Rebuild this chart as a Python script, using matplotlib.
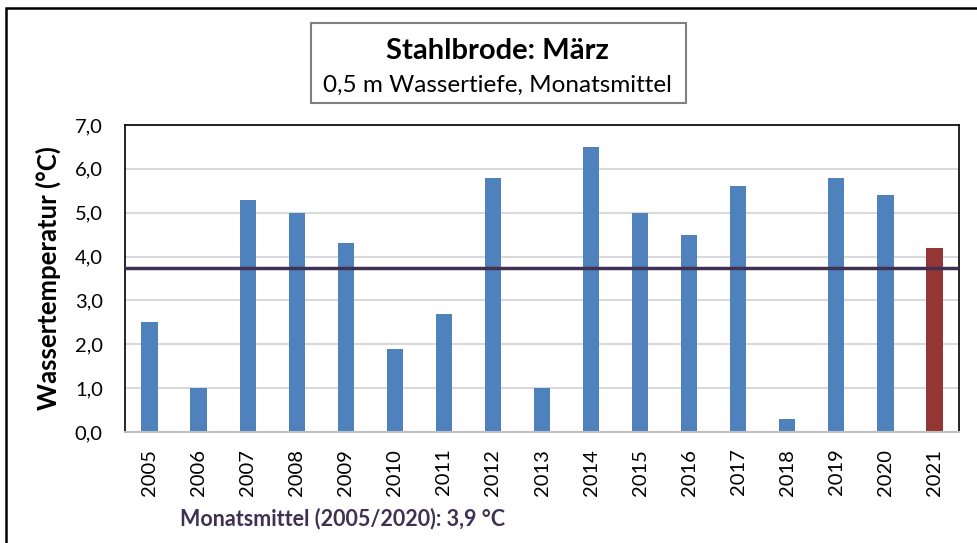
import matplotlib.pyplot as plt
from matplotlib.patches import Rectangle

plt.rcParams["font.family"] = ["Lato", "DejaVu Sans"]

years = ["2005", "2006", "2007", "2008", "2009", "2010", "2011", "2012", "2013",
         "2014", "2015", "2016", "2017", "2018", "2019", "2020", "2021"]
temps = [2.5, 1.0, 5.3, 5.0, 4.3, 1.9, 2.7, 5.8, 1.0, 6.5, 5.0, 4.5, 5.6, 0.3, 5.8, 5.4, 4.2]
mean_line = 3.75
y_ticks = [0, 1, 2, 3, 4, 5, 6, 7]

BLUE = "#4f81bd"
RED = "#943634"
PURPLE = "#403152"
GRID = "#d9d9d9"

fig = plt.figure(figsize=(9.78, 5.43), dpi=100)
fig.patch.set_facecolor("white")

# outer chart frame (runs off the right and bottom edge)
fig.patches.append(Rectangle((0.0066, -0.1), 1.2, 1.0853, transform=fig.transFigure,
                             fill=False, edgecolor="black", linewidth=1.8))

ax = fig.add_axes([0.1278, 0.2044, 0.8528, 0.5654])
colors = [BLUE] * (len(years) - 1) + [RED]
x = range(len(years))
ax.bar(x, temps, width=0.33, color=colors, zorder=2)
ax.axhline(mean_line, color=PURPLE, linewidth=2.5, zorder=3)

ax.set_xlim(-0.5, len(years) - 0.5)
ax.set_ylim(0, 7)
ax.set_yticks(y_ticks)
ax.set_yticklabels([f"{t:.1f}".replace(".", ",") for t in y_ticks], fontsize=14.5)
ax.set_xticks(list(x))
ax.set_xticklabels(years, rotation=90, fontsize=14.5)
ax.tick_params(axis="y", length=0, pad=16)
ax.tick_params(axis="x", length=0, pad=12)
ax.grid(axis="y", color=GRID, linewidth=1.5, zorder=0)
for side in ["left", "top", "right"]:
    ax.spines[side].set_color("black")
    ax.spines[side].set_linewidth(1.2)
ax.spines["bottom"].set_color("#bfbfbf")
ax.spines["bottom"].set_linewidth(1.5)

ax.set_ylabel("Wassertemperatur (°C)", fontsize=18.5, fontweight="bold", labelpad=10)

# title box
fig.patches.append(Rectangle((0.318, 0.810), 0.383, 0.148, transform=fig.transFigure,
                             fill=True, facecolor="white", edgecolor="#808080", linewidth=1.5))
fig.text(0.509, 0.906, "Stahlbrode: März", ha="center", va="center",
         fontsize=21, fontweight="bold")
fig.text(0.509, 0.842, "0,5 m Wassertiefe, Monatsmittel", ha="center", va="center",
         fontsize=17.5)

fig.text(0.184, 0.046, "Monatsmittel (2005/2020): 3,9 °C", ha="left", va="center",
         fontsize=15.5, fontweight="bold", color=PURPLE)

fig.savefig("out.png", dpi=100, facecolor="white")
